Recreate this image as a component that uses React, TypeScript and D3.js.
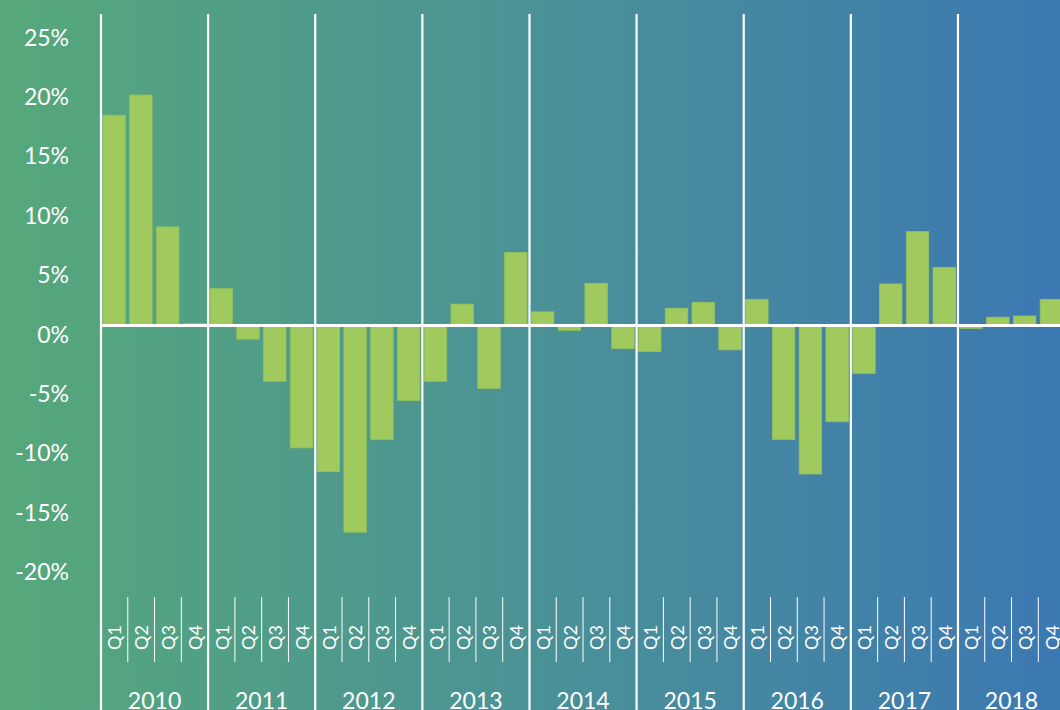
import React from "react";
import * as d3 from "d3";

const years = ["2010", "2011", "2012", "2013", "2014", "2015", "2016", "2017", "2018"];
const quarters = ["Q1", "Q2", "Q3", "Q4"];
const values = [
  17.7, 19.4, 8.3, 0.15,
  3.1, -1.15, -4.7, -10.3,
  -12.3, -17.4, -9.6, -6.3,
  -4.7, 1.8, -5.3, 6.15,
  1.15, -0.4, 3.55, -1.95,
  -2.2, 1.45, 1.95, -2.05,
  2.2, -9.6, -12.5, -8.1,
  -4.05, 3.5, 7.9, 4.9,
  -0.25, 0.7, 0.8, 2.2,
];
const yTicks = [25, 20, 15, 10, 5, 0, -5, -10, -15, -20];

const W = 1060;
const H = 710;

export default function App() {
  const keys = years.flatMap((y) => quarters.map((q) => `${y}-${q}`));
  const x = d3.scaleBand<string>().domain(keys).range([101, 101 + 36 * 26.78]).padding(0);
  const y = d3.scaleLinear().domain([-20, 25]).range([563.1, 28.5]);
  const bw = x.bandwidth();
  const barW = bw * 0.84;
  const barOff = bw * 0.07;
  const font = "Lato, 'Open Sans', sans-serif";

  return (
    <svg
      width={W}
      height={H}
      style={{ position: "fixed", left: 0, top: 0, display: "block" }}
      fontFamily={font}
    >
      <defs>
        <linearGradient id="bg" x1="0" y1="0" x2="1" y2="0">
          <stop offset="0%" stopColor="rgb(86,168,122)" />
          <stop offset="50%" stopColor="rgb(75,146,150)" />
          <stop offset="100%" stopColor="rgb(60,120,178)" />
        </linearGradient>
      </defs>
      <rect x={0} y={0} width={W} height={H} fill="url(#bg)" />

      {/* y labels */}
      {yTicks.map((t) => (
        <text key={t} x={69} y={y(t) + 17} fill="#fff" fontSize={23} textAnchor="end">
          {`${t}%`}
        </text>
      ))}

      {/* bars */}
      {keys.map((k, i) => {
        const v = values[i];
        const y0 = y(0);
        const y1 = y(v);
        return (
          <rect
            key={k}
            x={(x(k) as number) + barOff}
            y={Math.min(y0, y1)}
            width={barW}
            height={Math.abs(y1 - y0)}
            fill="#a0c95e"
            stroke="#95c05c"
            strokeWidth={0.8}
          />
        );
      })}

      {/* zero line */}
      <line x1={101} x2={W} y1={y(0)} y2={y(0)} stroke="#fff" strokeWidth={3} />

      {/* year separators */}
      {years.map((yr) => {
        const xs = x(`${yr}-Q1`) as number;
        return <line key={yr} x1={xs} x2={xs} y1={14} y2={H} stroke="#fff" strokeWidth={2.2} />;
      })}

      {/* quarter ticks */}
      {years.flatMap((yr) =>
        quarters.slice(1).map((q) => {
          const xs = x(`${yr}-${q}`) as number;
          return (
            <line key={`${yr}-${q}-t`} x1={xs} x2={xs} y1={597} y2={662} stroke="#fff" strokeWidth={1} />
          );
        })
      )}

      {/* quarter labels */}
      {keys.map((k) => {
        const cx = (x(k) as number) + bw / 2;
        const q = k.split("-")[1];
        return (
          <text
            key={`${k}-l`}
            transform={`translate(${cx + 7},650) rotate(-90)`}
            fill="#fff"
            fontSize={18}
            textAnchor="start"
          >
            {q}
          </text>
        );
      })}

      {/* year labels */}
      {years.map((yr) => {
        const xs = (x(`${yr}-Q1`) as number) + bw * 2;
        return (
          <text key={`${yr}-y`} x={xs} y={709} fill="#fff" fontSize={23} textAnchor="middle">
            {yr}
          </text>
        );
      })}
    </svg>
  );
}
